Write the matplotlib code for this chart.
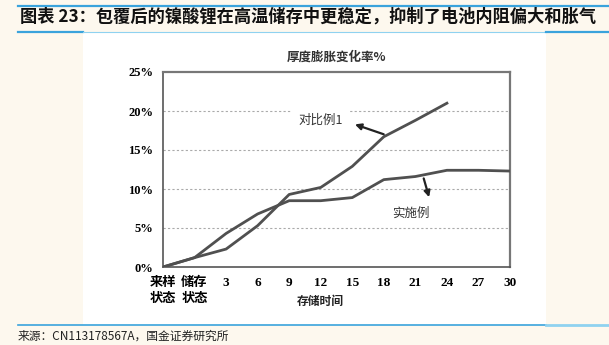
import matplotlib
matplotlib.use("Agg")
import matplotlib.pyplot as plt
from matplotlib.lines import Line2D
from matplotlib.patches import Rectangle

# storage time categories and thickness swelling rate (%)
categories = ["来样\n状态", "储存\n状态", "3", "6", "9", "12", "15", "18", "21", "24", "27", "30"]
example = [0.0, 1.2, 4.3, 6.8, 8.5, 8.5, 8.9, 11.2, 11.6, 12.4, 12.4, 12.3]
comparative = [0.0, 1.2, 2.3, 5.3, 9.3, 10.2, 12.9, 16.7, 18.8, 21.0]
yticks = [0, 5, 10, 15, 20, 25]

CJK = ["Noto Sans CJK SC", "DejaVu Sans"]
SERIF = ["Liberation Serif", "Noto Sans CJK SC"]
W, H = 609, 345
BG = "#fdf8ee"
BLUE = "#3aa3dc"
LIGHT = "#8fd2f0"

fig = plt.figure(figsize=(W / 100, H / 100), dpi=100, facecolor=BG)


def fx(px):
    return px / W


def fy(py):
    return 1 - py / H


# white panel behind the chart
fig.add_artist(Rectangle((fx(83), fy(325)), fx(546) - fx(83), fy(32) - fy(325),
                         transform=fig.transFigure, facecolor="white", edgecolor="none", zorder=0))

# header / footer rules
def hline(y, x0, x1, color, lw):
    fig.add_artist(Line2D([fx(x0), fx(x1)], [fy(y), fy(y)], transform=fig.transFigure,
                          color=color, lw=lw, zorder=1))

hline(6, 18, 609, BLUE, 1.6)
hline(32, 18, 83, BLUE, 1.6)
hline(32, 83, 546, LIGHT, 0.8)
hline(32, 546, 609, BLUE, 1.6)
hline(325, 18, 546, BLUE, 1.2)
hline(325, 546, 609, LIGHT, 2.0)

fig.text(fx(20), fy(17), "图表 23：包覆后的镍酸锂在高温储存中更稳定，抑制了电池内阻偏大和胀气",
         family=CJK, fontsize=12.4, weight="bold", va="center", ha="left", color="#111111")
fig.text(fx(18), fy(336), "来源：CN113178567A，国金证券研究所",
         family=CJK, fontsize=8.5, va="center", ha="left", color="#222222")

ax = fig.add_axes([fx(163), fy(267), fx(510) - fx(163), fy(72) - fy(267)])
ax.set_facecolor("white")

x = list(range(len(categories)))
ax.plot(x, example, color="#505050", lw=2, zorder=3)
ax.plot(x[:len(comparative)], comparative, color="#505050", lw=2, zorder=3)

ax.set_xlim(0, len(categories) - 1)
ax.set_ylim(0, 25)
ax.set_yticks(yticks)
ax.set_yticklabels([f"{v}%" for v in yticks], family=SERIF, fontsize=9, weight="bold")
ax.set_xticks(x)
ax.set_xticklabels(categories, family=SERIF, fontsize=9.5, weight="bold", va="top", linespacing=1.4)
ax.set_xticks([2, 4, 6, 8, 10], minor=True)
ax.tick_params(axis="both", which="major", length=0, pad=7)
ax.tick_params(axis="x", which="minor", length=4, direction="in", color="#666666")

for v in yticks[1:-1]:
    ax.axhline(v, color="#aaaaaa", lw=0.8, ls=(0, (2, 2)), zorder=1)

for side in ["left", "bottom"]:
    ax.spines[side].set_color("#555555")
    ax.spines[side].set_linewidth(1.2)
for side in ["top", "right"]:
    ax.spines[side].set_color("#777777")
    ax.spines[side].set_linewidth(1.6)

ax.set_title("厚度膨胀变化率%", family=CJK, fontsize=9, weight="bold", color="#333333", pad=8)
ax.text(4.98, -3.6, "存储时间", family=CJK, fontsize=8.5, weight="bold", color="#222222",
        ha="center", va="top", clip_on=False)

# series labels with arrows
ax.text(5.0, 18.8, "对比例1", family=CJK, fontsize=9, color="#333333", ha="center", va="center",
        bbox=dict(facecolor="white", edgecolor="none", pad=5), zorder=2)
ax.annotate("", xy=(6.0, 18.4), xytext=(7.08, 16.9),
            arrowprops=dict(arrowstyle="-|>", color="#222222", lw=1.6, mutation_scale=9), zorder=4)
ax.text(7.85, 6.9, "实施例", family=CJK, fontsize=9, color="#333333", ha="center", va="center")
ax.annotate("", xy=(8.46, 8.6), xytext=(8.24, 11.7),
            arrowprops=dict(arrowstyle="-|>", color="#222222", lw=1.6, mutation_scale=9), zorder=4)

fig.savefig("out.png", dpi=100, facecolor=BG)
